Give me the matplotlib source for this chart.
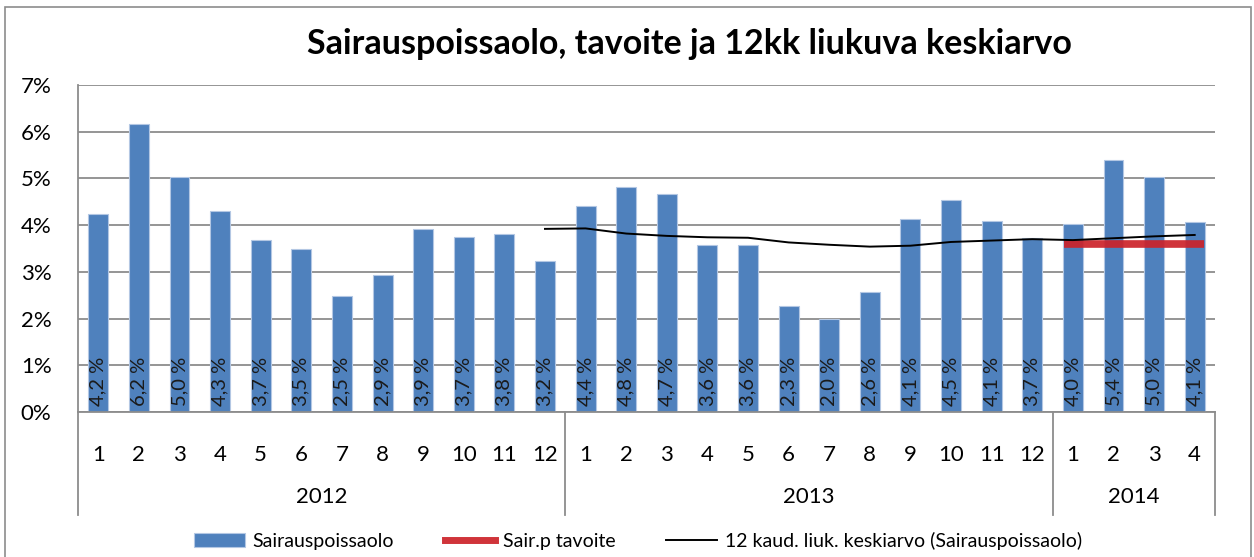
import numpy as np
import matplotlib
matplotlib.use("Agg")
import matplotlib.pyplot as plt
from matplotlib.patches import Rectangle
from matplotlib.ticker import FuncFormatter

# =========================
# Data
# =========================
years = ["2012", "2013", "2014"]
months_per_year = [12, 12, 4]
month_labels = [str(m) for n in months_per_year for m in range(1, n + 1)]

sick_leave = [4.24, 6.17, 5.02, 4.31, 3.69, 3.49, 2.48, 2.93, 3.92, 3.74, 3.81, 3.23,
              4.41, 4.82, 4.67, 3.58, 3.58, 2.27, 1.99, 2.57, 4.13, 4.54, 4.09, 3.73,
              4.03, 5.40, 5.03, 4.06]

# 12 month moving average, first value at 2012/12
moving_avg = [np.nan] * 11 + [3.92, 3.93, 3.82, 3.77, 3.74, 3.73, 3.63, 3.58, 3.54,
                              3.56, 3.64, 3.67, 3.70, 3.68, 3.72, 3.76, 3.79]

# target only for 2014
target = [np.nan] * 24 + [3.6, 3.6, 3.6, 3.6]

# =========================
# Style
# =========================
plt.rcParams.update({
    "font.family": ["Lato", "DejaVu Sans"],
    "font.size": 15,
})

bar_blue = "#4F81BD"
bar_edge = "#B3C7E3"
grid_gray = "#8C8C8C"
red = "#CC2229"

fig = plt.figure(figsize=(12.54, 5.57), dpi=100)
ax = fig.add_axes([78 / 1254, 1 - 412 / 557, (1215 - 78) / 1254, (412 - 85) / 557])

x = np.arange(len(sick_leave))
bars = ax.bar(x, sick_leave, width=0.49, color=bar_blue, edgecolor=bar_edge,
              linewidth=0.8, zorder=2, label="Sairauspoissaolo")

# target line, stretched a bit past the first/last bar centre like Excel
tgt = np.array(target)
idx = np.where(~np.isnan(tgt))[0]
ax.plot([idx[0] - 0.22, idx[-1] + 0.22], [tgt[idx[0]], tgt[idx[-1]]],
        color=red, linewidth=5.5, alpha=0.92, solid_capstyle="butt", zorder=3)
target_handle, = ax.plot([], [], color=red, linewidth=5, alpha=0.92,
                         label="Sair.p tavoite")

avg_line, = ax.plot(x, moving_avg, color="black", linewidth=1.4, zorder=4,
                    label="12 kaud. liuk. keskiarvo (Sairauspoissaolo)")

# value labels inside base
for b, v in zip(bars, sick_leave):
    ax.annotate(f"{v:.1f}".replace(".", ",") + " %",
                xy=(b.get_x() + b.get_width() / 2, 0), xytext=(0, 4),
                textcoords="offset points", rotation=90, ha="center", va="bottom",
                fontsize=14.5, color="#1A1A1A", zorder=5)

ax.set_xlim(-0.5, len(sick_leave) - 0.5)
ax.set_ylim(0, 7)
ax.set_yticks(np.arange(0, 8, 1))
ax.yaxis.set_major_formatter(FuncFormatter(lambda v, p: f"{v:.0f}%"))
ax.tick_params(axis="y", length=0, pad=19, labelsize=16)
ax.set_xticks(x)
ax.set_xticklabels(month_labels)
ax.tick_params(axis="x", length=0, pad=24, labelsize=16)

ax.grid(axis="y", color=grid_gray, linewidth=1.3)
ax.set_axisbelow(True)
for side in ["top", "right"]:
    ax.spines[side].set_visible(False)
ax.spines["left"].set_color(grid_gray)
ax.spines["bottom"].set_color(grid_gray)
ax.spines["left"].set_linewidth(1.3)
ax.spines["bottom"].set_linewidth(1.3)

# year groups and separators
tr = ax.get_xaxis_transform()
bounds = np.concatenate([[0], np.cumsum(months_per_year)]) - 0.5
for bnd in bounds:
    ax.plot([bnd, bnd], [0, -0.315], transform=tr, color=grid_gray,
            linewidth=1.3, clip_on=False)
for i, yr in enumerate(years):
    ax.text((bounds[i] + bounds[i + 1]) / 2, -0.26, yr, transform=tr,
            ha="center", va="center", fontsize=16)

ax.set_title("Sairauspoissaolo, tavoite ja 12kk liukuva keskiarvo",
             fontsize=24.5, fontweight="bold", x=0.538, y=1.0, pad=22)

fig.legend(handles=[bars, target_handle, avg_line],
           loc="center", bbox_to_anchor=(638 / 1254, 1 - 541 / 557), ncol=3,
           frameon=False, fontsize=14, handlelength=2.6, columnspacing=2.6,
           handletextpad=0.4)

# outer chart border
fig.patches.append(Rectangle((5 / 1254, -0.02), 1246 / 1254, 1 - 7 / 557 + 0.02,
                             transform=fig.transFigure, fill=False,
                             edgecolor="#8C8C8C", linewidth=1.2))

fig.savefig("out.png", dpi=100, facecolor="white")
